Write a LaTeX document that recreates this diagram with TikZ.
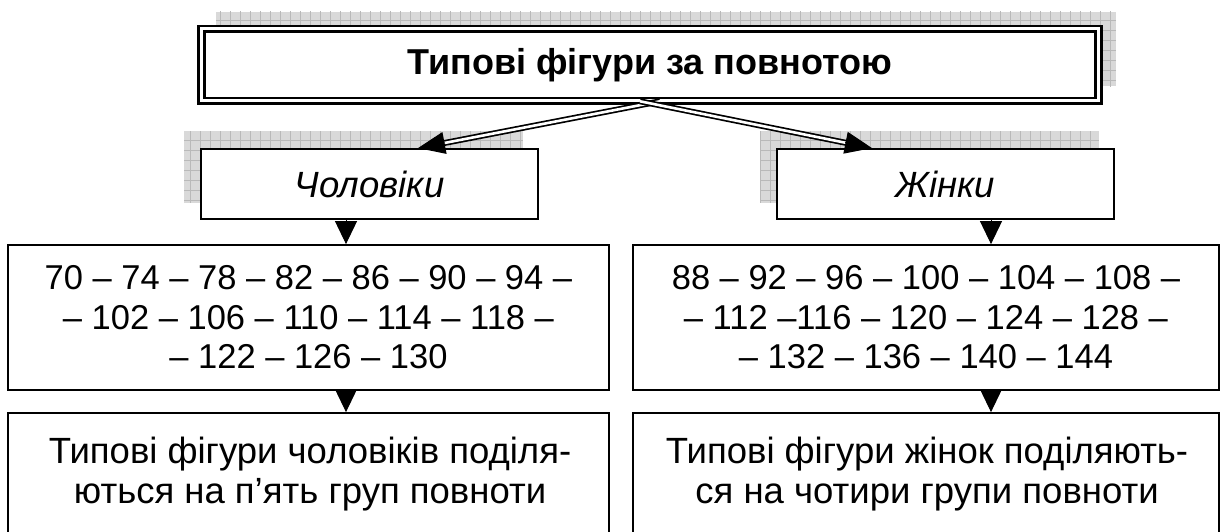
\documentclass[tikz,border=0pt]{standalone}
\usepackage{fontspec}
\setmainfont{Liberation Sans}
\usetikzlibrary{arrows.meta,backgrounds,calc}
\newcommand\mkshadow[3]{%
  \begin{scope}
    \path[shadowfill] ([shift={(#2,#3)}]#1.south west) rectangle ([shift={(#2,#3)}]#1.north east);
    \clip ([shift={(#2,#3)}]#1.south west) rectangle ([shift={(#2,#3)}]#1.north east);
    \draw[shadowgrid, step=10pt] (0,0) grid (1227,532);
  \end{scope}}
\begin{document}
\begin{tikzpicture}[x=1pt,y=-1pt,
  box/.style={draw, line width=1.8pt, fill=white, inner sep=0pt},
  numfont/.style={font=\fontsize{34.5}{39.5}\selectfont},
  wordfont/.style={font=\fontsize{36.5}{39.5}\selectfont},
  shadowfill/.style={fill=gray!30},
  shadowgrid/.style={draw=gray!55, line width=0.6pt},
  dline/.style={draw=black, double=white, double distance=2.6pt, line width=1.7pt},
  darr/.style={line width=1pt, -{Triangle[length=27pt,width=22pt]}},
  varr/.style={line width=1pt, -{Triangle[length=23pt,width=22pt]}},
  txt/.style={align=center, inner sep=0pt},
]
\useasboundingbox (0,0) rectangle (1227,532);
\clip (0,0) rectangle (1227,532);

% title box
\node[draw=black, double=white, double distance=3pt, line width=2.6pt, fill=white,
      minimum width=897pt, minimum height=72pt, inner sep=0pt,
      font=\fontsize{36}{40}\selectfont\bfseries] (top) at (650,65) {Типові фігури за повнотою};

% second level
\node[box, wordfont, minimum width=337pt, minimum height=70pt] (men) at (369.5,184) {\itshape Чоловіки};
\node[box, wordfont, minimum width=337pt, minimum height=70pt] (women) at (945.5,184) {\itshape Жінки};

% number boxes
\node[box, txt, numfont, minimum width=601pt, minimum height=145pt] (mnum) at (308.5,317.5)
  {70 – 74 – 78 – 82 – 86 – 90 – 94 –\\– 102 – 106 – 110 – 114 – 118 –\\– 122 – 126 – 130};
\node[box, txt, numfont, minimum width=586pt, minimum height=145pt] (wnum) at (926,317.5)
  {88 – 92 – 96 – 100 – 104 – 108 –\\– 112 –116 – 120 – 124 – 128 –\\– 132 – 136 – 140 – 144};

% result boxes
\node[box, minimum width=601pt, minimum height=157pt] (mres) at (308.5,491.5) {};
\node[box, minimum width=586pt, minimum height=157pt] (wres) at (926,491.5) {};
\node[txt, wordfont] (mrestxt) at (310,474) {Типові фігури чоловіків поділя-\\ються на п’ять груп повноти};
\node[txt, wordfont] (wrestxt) at (927,474) {Типові фігури жінок поділяють-\\ся на чотири групи повноти};

% shadows
\begin{scope}[on background layer]
  \mkshadow{top}{16}{-16}
  \mkshadow{men}{-16}{-17}
  \mkshadow{women}{-16}{-17}
\end{scope}

% double arrows
\coordinate (msrc) at ([xshift=10pt,yshift=1pt]top.south);
\coordinate (wsrc) at ([xshift=-10pt,yshift=1pt]top.south);
\coordinate (mtip) at ([xshift=48.5pt]men.north);
\coordinate (wtip) at ([xshift=-73.5pt]women.north);
\draw[dline] (msrc) -- ($(mtip)!20pt!(msrc)$);
\draw[dline] (wsrc) -- ($(wtip)!20pt!(wsrc)$);
\draw[darr] ($(mtip)!27.5pt!(msrc)$) -- (mtip);
\draw[darr] ($(wtip)!27.5pt!(wsrc)$) -- (wtip);

% vertical arrows
\coordinate (ma) at (346,0);
\coordinate (wa) at (991,0);
\draw[varr] (men.south -| ma) -- (mnum.north -| ma);
\draw[varr] (mnum.south -| ma) -- (mres.north -| ma);
\draw[varr] (women.south -| wa) -- (wnum.north -| wa);
\draw[varr] (wnum.south -| wa) -- (wres.north -| wa);
\end{tikzpicture}
\end{document}
